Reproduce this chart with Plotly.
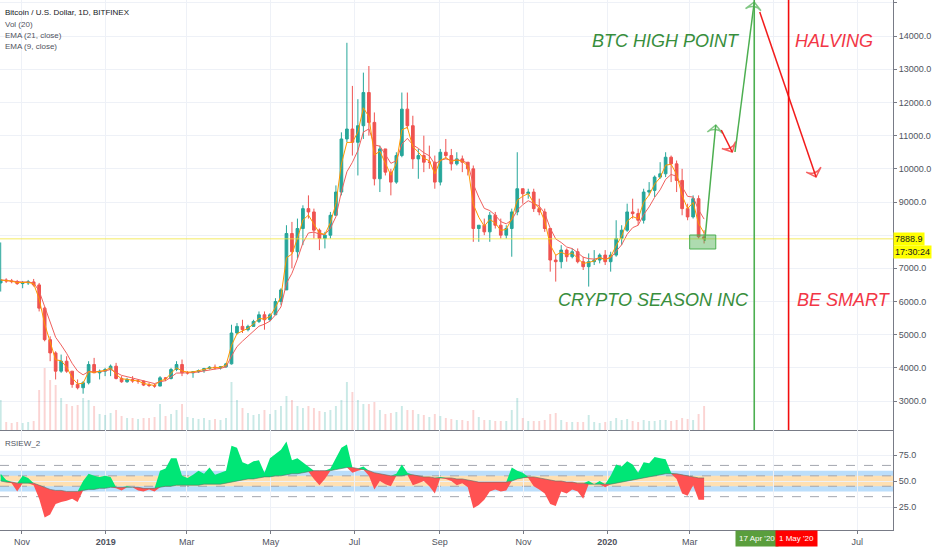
import numpy as np
import pandas as pd
import plotly.graph_objects as go
from plotly.subplots import make_subplots

first_open = 6560
close = [6650, 6620, 6600, 6540, 6560, 6590, 6500, 5800, 4850, 4450,
         3900, 4200, 3900, 3500, 3400, 3550, 4100, 3850, 3900, 3950,
         4050, 3680, 3580, 3650, 3600, 3600, 3480, 3470, 3450, 3700,
         3680, 3950, 4100, 3850, 3850, 3880, 3920, 3980, 4020, 4000,
         4030, 4120, 5050, 5250, 5150, 5250, 5400, 5600, 5450, 5600,
         6000, 6350, 8050, 7500, 8200, 8800, 8700, 8150, 7900, 8000,
         8600, 9300, 10900, 11200, 10800, 11300, 12300, 11400, 9700, 10600,
         9900, 9600, 10400, 11800, 11300, 10300, 10400, 10200, 10200, 9600,
         10500, 10400, 10150, 10300, 10200, 10000, 8200, 8300, 8100, 8600,
         8300, 8000, 8200, 8700, 9400, 9250, 9300, 8800, 8700, 8200,
         7250, 7200, 7550, 7350, 7500, 7200, 7050, 7200, 7250, 7400,
         7200, 7400, 7900, 8150, 8700, 8650, 8450, 9300, 9350, 9750,
         9850, 10350, 10150, 9650, 8800, 8550, 9100, 7950, 7888.9]
high = [7780, 6700, 6680, 6650, 6620, 6650, 6680, 6560, 5850, 4950,
        4500, 4400, 4350, 3900, 3650, 3600, 4200, 4300, 3950, 4000,
        4100, 4150, 3750, 3700, 3750, 3650, 3620, 3550, 3520, 3750,
        3720, 4000, 4200, 4250, 3900, 3900, 3950, 4000, 4050, 4100,
        4050, 4150, 5300, 5350, 5450, 5300, 5450, 5700, 5700, 5650,
        6100, 6400, 8300, 8400, 8500, 8900, 9200, 8800, 8200, 8100,
        8700, 9500, 11100, 13800, 12500, 12100, 12900, 13100, 11700, 10700,
        10600, 10000, 10500, 12300, 12300, 11600, 10600, 11000, 10700, 10400,
        10600, 10900, 10600, 10500, 10400, 10200, 10100, 8300, 8500, 8700,
        8700, 8500, 8300, 8800, 10500, 9400, 9400, 9400, 9100, 8800,
        8200, 7400, 7700, 7600, 7600, 7600, 7350, 7450, 7550, 7450,
        7550, 7500, 8450, 8300, 8950, 9100, 8800, 9400, 9600, 9800,
        10200, 10500, 10400, 10250, 10000, 8950, 9200, 9200, 8150]
low = [6300, 6560, 6550, 6500, 6400, 6500, 6450, 5700, 4800, 4200,
       3650, 3850, 3850, 3400, 3350, 3220, 3500, 3850, 3650, 3750,
       3750, 3650, 3550, 3550, 3550, 3520, 3450, 3420, 3400, 3450,
       3600, 3650, 3900, 3750, 3800, 3700, 3850, 3850, 3950, 3950,
       3950, 4000, 4100, 5000, 5050, 5100, 5250, 5350, 5150, 5400,
       5600, 5900, 6350, 7000, 7300, 7700, 8500, 7900, 7550, 7600,
       7900, 8600, 9200, 10800, 10400, 9800, 10900, 11000, 9500, 9300,
       9800, 9200, 9550, 10350, 11200, 10000, 9700, 9900, 10000, 9400,
       9500, 10300, 9950, 10100, 9900, 9800, 7800, 7800, 8000, 7800,
       8200, 7900, 7900, 7350, 8600, 8950, 9100, 8700, 8600, 8100,
       6900, 6600, 7000, 7200, 7300, 7150, 6950, 6450, 7100, 7150,
       7100, 6900, 7350, 7700, 8100, 8500, 8300, 8350, 9200, 9150,
       9700, 9750, 9600, 9300, 8600, 8450, 8500, 7900, 7750]
volume = [30, 8, 7, 8, 7, 8, 9, 40, 62, 50,
          45, 32, 26, 24, 25, 32, 30, 24, 16, 15,
          17, 20, 14, 12, 12, 11, 12, 12, 13, 26,
          14, 16, 20, 26, 13, 12, 11, 12, 10, 11,
          10, 12, 48, 30, 22, 17, 15, 16, 20, 16,
          20, 24, 34, 30, 24, 22, 24, 22, 19, 18,
          20, 24, 30, 48, 38, 30, 26, 26, 28, 20,
          16, 17, 18, 24, 20, 20, 16, 15, 13, 16,
          14, 12, 11, 10, 10, 9, 20, 13, 10, 10,
          9, 9, 9, 20, 32, 12, 9, 9, 9, 10,
          16, 17, 10, 8, 8, 8, 8, 15, 8, 7,
          8, 9, 12, 10, 11, 9, 8, 10, 9, 9,
          10, 10, 9, 10, 12, 11, 10, 16, 24]
rsi = [57, 51, 48, 40, 55, 53, 46, 33, 15, 18,
       28, 30, 31, 33, 30, 50, 57, 55, 54, 55,
       54, 43, 41, 45, 44, 41, 40, 42, 40, 60,
       62, 72, 72, 55, 53, 56, 60, 57, 63, 56,
       58, 60, 84, 82, 68, 66, 69, 70, 58, 72,
       76, 80, 88, 70, 72, 68, 64, 52, 46, 52,
       62, 72, 82, 85, 58, 60, 64, 55, 42, 50,
       47, 45, 57, 66, 58, 46, 48, 50, 45, 38,
       54, 52, 50, 46, 48, 44, 24, 27, 32, 40,
       42, 40, 41, 63, 60, 58, 53, 45, 42, 38,
       28, 26, 40, 38, 42, 40, 33, 50, 47, 50,
       44, 55, 66, 64, 69, 66, 58, 68, 67, 73,
       72, 71, 58, 52, 38, 36, 46, 32, 32]
rsi_base = [50, 49, 49, 48, 48, 48, 48, 46, 44, 42,
            41, 41, 40, 40, 40, 41, 42, 42, 43, 43,
            44, 44, 44, 44, 44, 44, 43, 43, 43, 44,
            45, 45, 46, 46, 46, 46, 46, 47, 47, 47,
            47, 48, 49, 50, 51, 52, 52, 53, 54, 54,
            55, 55, 56, 57, 57, 58, 59, 60, 60, 60,
            60, 61, 62, 63, 63, 62, 61, 60, 58, 57,
            56, 55, 55, 55, 56, 56, 55, 54, 54, 53,
            53, 53, 53, 52, 52, 51, 50, 49, 49, 49,
            49, 49, 49, 50, 52, 53, 54, 54, 53, 52,
            51, 50, 50, 49, 49, 48, 48, 47, 47, 47,
            47, 47, 48, 49, 50, 51, 52, 53, 54, 55,
            56, 57, 57, 57, 56, 55, 54, 53, 53]

last_price = 7888.9
green_day = "2020-04-17"
halving_day = "2020-05-12"
tick_months = ["2018-11-01", "2019-01-01", "2019-03-01", "2019-05-01", "2019-07-01", "2019-09-01",
               "2019-11-01", "2020-01-01", "2020-03-01", "2020-05-01", "2020-07-01"]
tick_text = ["Nov", "<b>2019</b>", "Mar", "May", "Jul", "Sep", "Nov", "<b>2020</b>", "Mar", "", "Jul"]
price_ticks = list(range(3000, 15001, 1000))
# 8000.0 sits under the last-price tag, so it has no label
price_labels = ["" if v == 8000 else f"{v:.1f}" for v in price_ticks]

# hand drawn arrows on the chart (date, price)
green_up1 = (["2020-03-12", "2020-03-20"], [7824, 11322])
red_dn1 = (["2020-03-24", "2020-04-01"], [11171, 10507])
green_up2 = (["2020-04-03", "2020-04-17"], [10507, 15030])
red_dn2 = (["2020-04-21", "2020-06-01"], [14729, 9754])
box_dates = ["2020-03-01", "2020-03-20"]
box_prices = [7583, 8005]

GREEN = "#26a69a"
RED = "#ef5350"

n = len(close)
dates = pd.date_range("2018-10-16 12:00", periods=n, freq="4D")
opens = [first_open] + close[:-1]
cs = pd.Series(close)
ema21 = cs.ewm(span=21 / 4, adjust=False).mean()
ema9 = cs.ewm(span=9 / 4, adjust=False).mean()

fig = make_subplots(rows=2, cols=1, shared_xaxes=True, vertical_spacing=0,
                    row_heights=[430 / 530, 100 / 530],
                    specs=[[{"secondary_y": True}], [{}]])

vol_cols = ["rgba(38,166,154,0.25)" if c >= o else "rgba(239,83,80,0.25)" for o, c in zip(opens, close)]
fig.add_trace(go.Bar(x=dates, y=volume, marker_color=vol_cols, marker_line_width=0,
                     width=4 * 86400000 * 0.35), row=1, col=1, secondary_y=False)

fig.add_trace(go.Candlestick(
    x=dates, open=opens, high=high, low=low, close=close,
    increasing=dict(line=dict(color=GREEN, width=1), fillcolor=GREEN),
    decreasing=dict(line=dict(color=RED, width=1), fillcolor=RED),
    whiskerwidth=0,
), row=1, col=1, secondary_y=True)

fig.add_trace(go.Scatter(x=dates, y=ema21, mode="lines", line=dict(color="#f0605d", width=1)),
              row=1, col=1, secondary_y=True)
fig.add_trace(go.Scatter(x=dates, y=ema9, mode="lines", line=dict(color="#ff9800", width=1)),
              row=1, col=1, secondary_y=True)

for (xs, ys), col in [(green_up1, "#4caf50"), (red_dn1, "#f21c1c"),
                      (green_up2, "#4caf50"), (red_dn2, "#f21c1c")]:
    fig.add_trace(go.Scatter(
        x=xs, y=ys, mode="lines+markers", line=dict(color=col, width=1.5),
        marker=dict(symbol="arrow-wide-open", size=[0, 11], angleref="previous",
                    color=col, line=dict(color=col, width=1.5)),
    ), row=1, col=1, secondary_y=True)

# RSI panel
up_edge = np.maximum(rsi, rsi_base)
dn_edge = np.minimum(rsi, rsi_base)
fig.add_trace(go.Scatter(x=dates, y=rsi_base, mode="lines", line=dict(width=0)), row=2, col=1)
fig.add_trace(go.Scatter(x=dates, y=up_edge, mode="lines", line=dict(width=0),
                         fill="tonexty", fillcolor="#00e676"), row=2, col=1)
fig.add_trace(go.Scatter(x=dates, y=rsi_base, mode="lines", line=dict(width=0)), row=2, col=1)
fig.add_trace(go.Scatter(x=dates, y=dn_edge, mode="lines", line=dict(width=0),
                         fill="tonexty", fillcolor="#ff5252"), row=2, col=1)
fig.add_trace(go.Scatter(x=dates, y=rsi_base, mode="lines",
                         line=dict(width=1, color="rgba(90,110,100,0.6)")), row=2, col=1)

# bands
fig.add_shape(type="rect", xref="x2 domain", yref="y3", x0=0, x1=1, y0=40, y1=60,
              fillcolor="#bbdefb", line_width=0, layer="below")
fig.add_shape(type="rect", xref="x2 domain", yref="y3", x0=0, x1=1, y0=45, y1=55,
              fillcolor="#ffe0b2", line_width=0, layer="below")
for lv in [65, 55, 45, 35]:
    fig.add_shape(type="line", xref="x2 domain", yref="y3", x0=0, x1=1, y0=lv, y1=lv,
                  line=dict(color="#a3a6af", width=1, dash="dash"), layer="below")

# price line, vertical marks, box
fig.add_shape(type="line", xref="x domain", yref="y2", x0=0, x1=1, y0=last_price, y1=last_price,
              line=dict(color="rgba(240,230,60,0.8)", width=1))
fig.add_shape(type="line", xref="x", yref="y2 domain", x0=green_day, x1=green_day, y0=0, y1=1,
              line=dict(color="#4caf50", width=1.6))
fig.add_shape(type="line", xref="x", yref="y2 domain", x0=halving_day, x1=halving_day, y0=0, y1=1,
              line=dict(color="#f20d0d", width=1.6))
fig.add_shape(type="rect", xref="x", yref="y2", x0=box_dates[0], x1=box_dates[1],
              y0=box_prices[0], y1=box_prices[1],
              fillcolor="rgba(76,175,80,0.45)", line=dict(color="#4caf50", width=1))

big = dict(family="Liberation Sans, Arial, sans-serif", size=18)
notes = [
    ("<i>BTC HIGH POINT</i>", "2020-04-08", 13850, "right", "#388e3c"),
    ("<i>HALVING</i>", "2020-05-15", 13850, "left", "#f23645"),
    ("<i>CRYPTO SEASON INC</i>", "2020-04-15", 6045, "right", "#388e3c"),
    ("<i>BE SMART</i>", "2020-05-17", 6045, "left", "#f23645"),
]
for txt, xd, yv, anc, col in notes:
    fig.add_annotation(text=txt, x=xd, y=yv, xref="x", yref="y2", xanchor=anc, yanchor="middle",
                       showarrow=False, font=dict(color=col, **big))

legend_lines = [("Bitcoin / U.S. Dollar, 1D, BITFINEX", -12, "#131722"),
                ("Vol (20)", -24, "#50535e"),
                ("EMA (21, close)", -35, "#50535e"),
                ("EMA (9, close)", -46, "#50535e")]
for txt, dy, col in legend_lines:
    fig.add_annotation(text=txt, xref="paper", yref="paper", x=0, y=1, xanchor="left", yanchor="middle",
                       xshift=3, yshift=dy, showarrow=False,
                       font=dict(family="Liberation Sans, Arial, sans-serif", size=8, color=col))
fig.add_annotation(text="RSIEW_2", xref="paper", yref="y3 domain", x=0, y=1, xanchor="left",
                   yanchor="middle", xshift=3, yshift=-13, showarrow=False,
                   font=dict(family="Liberation Sans, Arial, sans-serif", size=8, color="#50535e"))

fig.add_annotation(text="7888.9", xref="paper", yref="y2", x=1, y=last_price, xanchor="left",
                   yanchor="middle", showarrow=False, bgcolor="#ffff00", borderpad=1,
                   font=dict(size=9, color="#131722"))
fig.add_annotation(text="17:30:24", xref="paper", yref="y2", x=1, y=last_price, xanchor="left",
                   yanchor="middle", yshift=-13, showarrow=False, bgcolor="#ffff00", borderpad=1,
                   font=dict(size=9, color="#131722"))
fig.add_annotation(text="17 Apr '20", xref="x2", yref="paper", x=green_day, y=0, yanchor="top",
                   xshift=3, showarrow=False, bgcolor="#5a9e3d", borderpad=3,
                   font=dict(size=8, color="white"))
fig.add_annotation(text="1 May '20", xref="x2", yref="paper", x=halving_day, y=0, yanchor="top",
                   xshift=8, showarrow=False, bgcolor="#ff0000", borderpad=3,
                   font=dict(size=8, color="white"))

axis_line = "#787b86"
grid = "#eef1f7"
xr = ["2018-10-16", "2020-07-27"]
fig.update_xaxes(domain=[0, 1], range=xr, tickvals=tick_months, ticktext=tick_text, showgrid=True,
                 gridcolor=grid, showline=True, linecolor=axis_line, rangeslider_visible=False,
                 zeroline=False)
fig.update_xaxes(showticklabels=False, ticks="", row=1, col=1)
fig.update_xaxes(ticks="outside", ticklen=3, tickcolor=axis_line, tickfont=dict(size=9, color="#50535e"),
                 row=2, col=1)

fig.update_layout(
    width=932, height=550, margin=dict(l=0, r=39, t=0, b=20),
    paper_bgcolor="white", plot_bgcolor="white", showlegend=False,
    font=dict(family="Liberation Sans, Arial, sans-serif", size=9, color="#50535e"),
    yaxis=dict(range=[0, 430], visible=False, showgrid=False),
    yaxis2=dict(range=[2126, 15090], side="right", tickvals=price_ticks, ticktext=price_labels,
                showgrid=True, gridcolor=grid,
                ticks="outside", ticklen=3, tickcolor=axis_line, showline=True, linecolor=axis_line,
                zeroline=False, tickfont=dict(size=9, color="#50535e")),
    yaxis3=dict(range=[3, 99], side="right", tickvals=[25, 50, 75], ticktext=["25.0", "50.0", "75.0"],
                showgrid=True, gridcolor=grid, ticks="outside", ticklen=3, tickcolor=axis_line,
                showline=True, linecolor=axis_line, zeroline=False, tickfont=dict(size=9, color="#50535e")),
)

# the page body has a default 8px margin; drop it so the figure fills the window
fig.write_html("out.html", config={"displayModeBar": False},
               post_script="document.body.style.margin='0px';")
